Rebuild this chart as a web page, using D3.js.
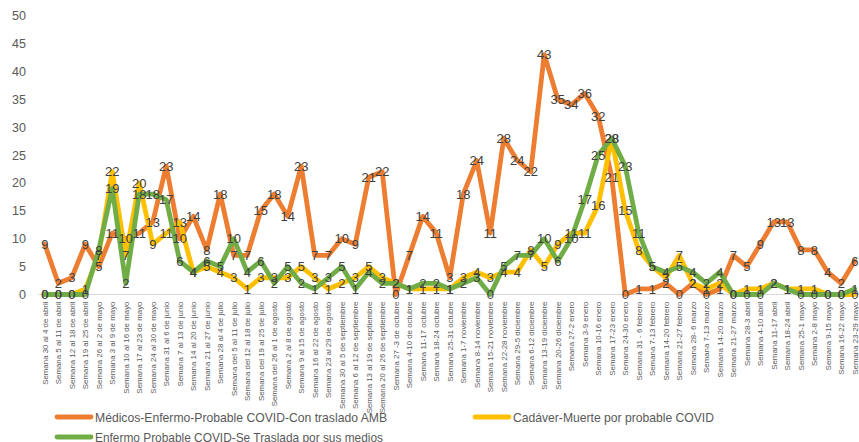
<!DOCTYPE html>
<html>
<head>
<meta charset="utf-8">
<script src="https://cdn.jsdelivr.net/npm/d3@7"></script>
<style>
    body { margin: 0; background: #fff; }
    svg { display: block; }
</style>
</head>
<body>
<div id="chart"></div>
<script>
// semanas (eje x)
var categories = [
    "Semana 30 al 4 de abril", "Semana 5 al 11 de abril", "Semana 12 al 18 de abril", "Semana 19 al 25 de abril",
    "Semana 26 al 2 de mayo", "Semana 3 al 9 de mayo", "Semana 10 al 16 de mayo", "Semana 17 al 23 de mayo",
    "Semana 24 al 30 de mayo", "Semana 31 al 6 de junio", "Semana 7 al 13 de junio", "Semana 14 al 20 de junio",
    "Semana 21 al 27 de junio", "Semana 28 al 4 de julio", "Semana del 5 al 11 de julio", "Semana del 12 al 18 de julio",
    "Semana del 19 al 25 de julio", "Semana del 26 al 1 de agosto", "Semana 2 al 8 de agosto", "Semana 9 al 15 de agosto",
    "Semana 16 al 22 de agosto", "Semana 23 al 29 de agosto", "Semana 30 al 5 de septiembre", "Semana 6 al 12 de septiembre",
    "Semana 13 al 19 de septiembre", "Semana 20 al 26 de septiembre", "Semana 27 -3 de octubre", "Semana 4-10 de octubre",
    "Semana 11-17 octubre", "Semana 18-24 octubre", "Semana 25-31 octubre", "Semana 1-7 noviembre",
    "Semana 8-14 noviembre", "Semana 15-21 noviembre", "Semana 22-28 noviembre", "Semana 29-5 diciembre",
    "Semana 6-12 diciembre", "Semana 13-19 diciembre", "Semana 20-26 diciembre", "Semana 27-2 enero",
    "Semana 3-9 enero", "Semana 10-16 enero", "Semana 17-23 enero", "Semana 24-30 enero",
    "Semana 31 - 6 febrero", "Semana 7-13 febrero", "Semana 14-20 febrero", "Semana 21-27 febrero",
    "Semana 28- 6 marzo", "Semana 7-13 marzo", "Semana 14-20 marzo", "Semana 21-27 marzo",
    "Semana 28-3 abril", "Semana 4-10 abril", "Semana 11-17 abril", "Semana 18-24 abril",
    "Semana 25-1 mayo", "Semana 2-8 mayo", "Semana 9-15 mayo", "Semana 16-22 mayo", "Semana 23-29 mayo"
];

var medicos = [9, 2, 3, 9, 5, 11, 10, 11, 13, 23, 10, 14, 8, 18, 7, 7, 15, 18, 14, 23,
    7, 7, 10, 9, 21, 22, 0, 7, 14, 11, 3, 18, 24, 11, 28, 24, 22, 43, 35, 34,
    36, 32, 21, 0, 1, 1, 2, 0, 2, 0, 1, 7, 5, 9, 13, 13, 8, 8, 4, 2, 6];

var cadaver = [0, 0, 0, 1, 7, 22, 7, 20, 9, 11, 13, 4, 5, 4, 3, 1, 3, 3, 3, 5,
    3, 1, 2, 3, 5, 3, 2, 1, 1, 1, 1, 3, 4, 3, 4, 4, 8, 5, 9, 11,
    11, 16, 28, 15, 8, 5, 3, 7, 2, 1, 2, 0, 1, 1, 2, 1, 1, 1, 0, 0, 0];

var enfermo = [0, 0, 0, 0, 8, 19, 2, 18, 18, 17, 6, 4, 6, 5, 10, 4, 6, 2, 5, 2,
    1, 3, 5, 1, 4, 2, 2, 1, 2, 2, 1, 2, 3, 0, 5, 7, 7, 10, 6, 10,
    17, 25, 28, 23, 11, 5, 4, 5, 4, 2, 4, 0, 0, 0, 2, 1, 0, 0, 0, 0, 1];

var yTicks = [0, 5, 10, 15, 20, 25, 30, 35, 40, 45, 50];

var seriesNames = [
    "Médicos-Enfermo-Probable COVID-Con traslado AMB",
    "Cadáver-Muerte por probable COVID",
    "Enfermo Probable COVID-Se Traslada por sus medios"
];
var seriesColors = ["#ED7D31", "#FFC000", "#70AD47"];

var width = 859, height = 442;

var svg = d3.select("#chart").append("svg")
    .attr("width", width)
    .attr("height", height);

var x = d3.scaleBand()
    .domain(categories)
    .range([38, 38 + categories.length * 13.5]);

var y = d3.scaleLinear()
    .domain([0, 50])
    .range([294.5, 15.5]);

var cx = function (c) { return x(c) + x.bandwidth() / 2; };

// eje y (solo etiquetas)
var yAxis = d3.axisLeft(y).tickValues(yTicks).tickSize(0).tickPadding(0);
var gy = svg.append("g")
    .attr("transform", "translate(26,0)")
    .call(yAxis);
gy.select(".domain").remove();
gy.selectAll("text")
    .attr("fill", "#595959")
    .attr("font-family", "Liberation Sans, Arial, sans-serif")
    .attr("font-size", "12.5px");

// linea base
svg.append("line")
    .attr("x1", 38).attr("x2", width)
    .attr("y1", y(0)).attr("y2", y(0))
    .attr("stroke", "#d9d9d9")
    .attr("stroke-width", 1);

// eje x: etiquetas rotadas
var xAxis = d3.axisBottom(x).tickSize(0).tickPadding(0);
var gx = svg.append("g")
    .attr("transform", "translate(0," + (y(0) + 7) + ")")
    .call(xAxis);
gx.select(".domain").remove();
gx.selectAll("text")
    .attr("fill", "#595959")
    .attr("font-family", "Liberation Sans, Arial, sans-serif")
    .attr("font-size", "7.9px")
    .attr("text-anchor", "end")
    .attr("dy", null)
    .attr("y", 0)
    .attr("transform", "translate(3,0) rotate(-90)");

var allSeries = [medicos, cadaver, enfermo];

var line = d3.line()
    .x(function (d, i) { return cx(categories[i]); })
    .y(function (d) { return y(d); });

var linesG = svg.append("g");
allSeries.forEach(function (vals, s) {
    linesG.append("path")
        .datum(vals)
        .attr("d", line)
        .attr("fill", "none")
        .attr("stroke", seriesColors[s])
        .attr("stroke-width", 4.8)
        .attr("stroke-linejoin", "round")
        .attr("stroke-linecap", "round");
});

// etiquetas de datos
var labelsG = svg.append("g")
    .attr("font-family", "Liberation Sans, Arial, sans-serif")
    .attr("font-size", "13px")
    .attr("fill", "#404040")
    .attr("text-anchor", "middle");
allSeries.forEach(function (vals, s) {
    labelsG.selectAll(null)
        .data(vals)
        .enter().append("text")
        .attr("x", function (d, i) { return cx(categories[i]); })
        .attr("y", function (d) { return y(d); })
        .attr("dy", "0.36em")
        .text(function (d) { return d; });
});

// leyenda
var legend = [
    { x: 57, y: 417, w: 292 },
    { x: 475, y: 417, w: 201 },
    { x: 57, y: 437, w: 288 }
];
var legendG = svg.append("g")
    .attr("font-family", "Liberation Sans, Arial, sans-serif")
    .attr("font-size", "13px")
    .attr("fill", "#595959");
legend.forEach(function (l, s) {
    legendG.append("line")
        .attr("x1", l.x).attr("x2", l.x + 34)
        .attr("y1", l.y).attr("y2", l.y)
        .attr("stroke", seriesColors[s])
        .attr("stroke-width", 4.8)
        .attr("stroke-linecap", "round");
    legendG.append("text")
        .attr("x", l.x + 38)
        .attr("y", l.y)
        .attr("dy", "0.36em")
        .attr("textLength", l.w)
        .attr("lengthAdjust", "spacingAndGlyphs")
        .text(seriesNames[s]);
});
</script>
</body>
</html>
